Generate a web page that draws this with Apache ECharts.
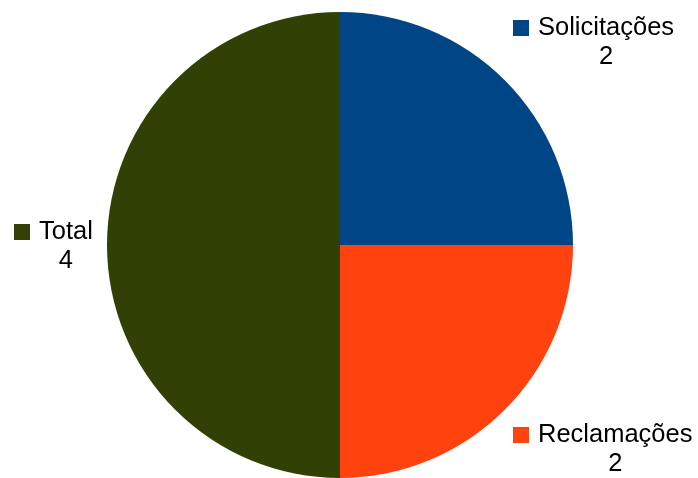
<!DOCTYPE html>
<html>
<head>
<meta charset="utf-8">
<script src="https://cdn.jsdelivr.net/npm/echarts@6/dist/echarts.min.js"></script>
<style>
html,body{margin:0;padding:0;background:#fff;}
#chart{width:698px;height:478px;}
</style>
</head>
<body>
<div id="chart"></div>
<script>
const categories = ['Solicitações', 'Reclamações', 'Total'];
const values = [2, 2, 4];

const colors = ['#004586', '#ff420e', '#314004'];
const labelPos = [
  {x: 513, y: 13.5},
  {x: 513, y: 420.5},
  {x: 14, y: 217.5}
];

const chart = echarts.init(document.getElementById('chart'), null, {renderer: 'canvas'});
const FONT = 'Liberation Sans, Arial, sans-serif';
const FS = 25.5, LH = 29, SQ = 16, GAP = 9;

chart.setOption({
  animation: false,
  backgroundColor: '#ffffff',
  series: [{
    type: 'pie',
    center: [340, 245],
    radius: [0, 233],
    startAngle: 90,
    clockwise: true,
    silent: true,
    itemStyle: {borderWidth: 0},
    labelLine: {show: false},
    label: {
      show: true,
      position: 'inside',
      formatter: function (p) {
        return '{sq' + p.dataIndex + '|}{n|' + p.name + '}\n{v|' + p.value + '}';
      },
      rich: {
        sq0: {width: SQ, height: SQ, backgroundColor: colors[0], align: 'center'},
        sq1: {width: SQ, height: SQ, backgroundColor: colors[1], align: 'center'},
        sq2: {width: SQ, height: SQ, backgroundColor: colors[2], align: 'center'},
        n: {fontFamily: FONT, fontSize: FS, lineHeight: LH, color: '#000', padding: [0, 0, 0, GAP], align: 'center'},
        v: {fontFamily: FONT, fontSize: FS, lineHeight: LH, color: '#000', padding: [0, 0, 0, SQ + GAP], align: 'center'}
      }
    },
    labelLayout: function (params) {
      const p = labelPos[params.dataIndex];
      return {x: p.x, y: p.y, align: 'left', verticalAlign: 'top'};
    },
    data: categories.map(function (c, i) {
      return {name: c, value: values[i], itemStyle: {color: colors[i]}};
    })
  }]
});
</script>
</body>
</html>
